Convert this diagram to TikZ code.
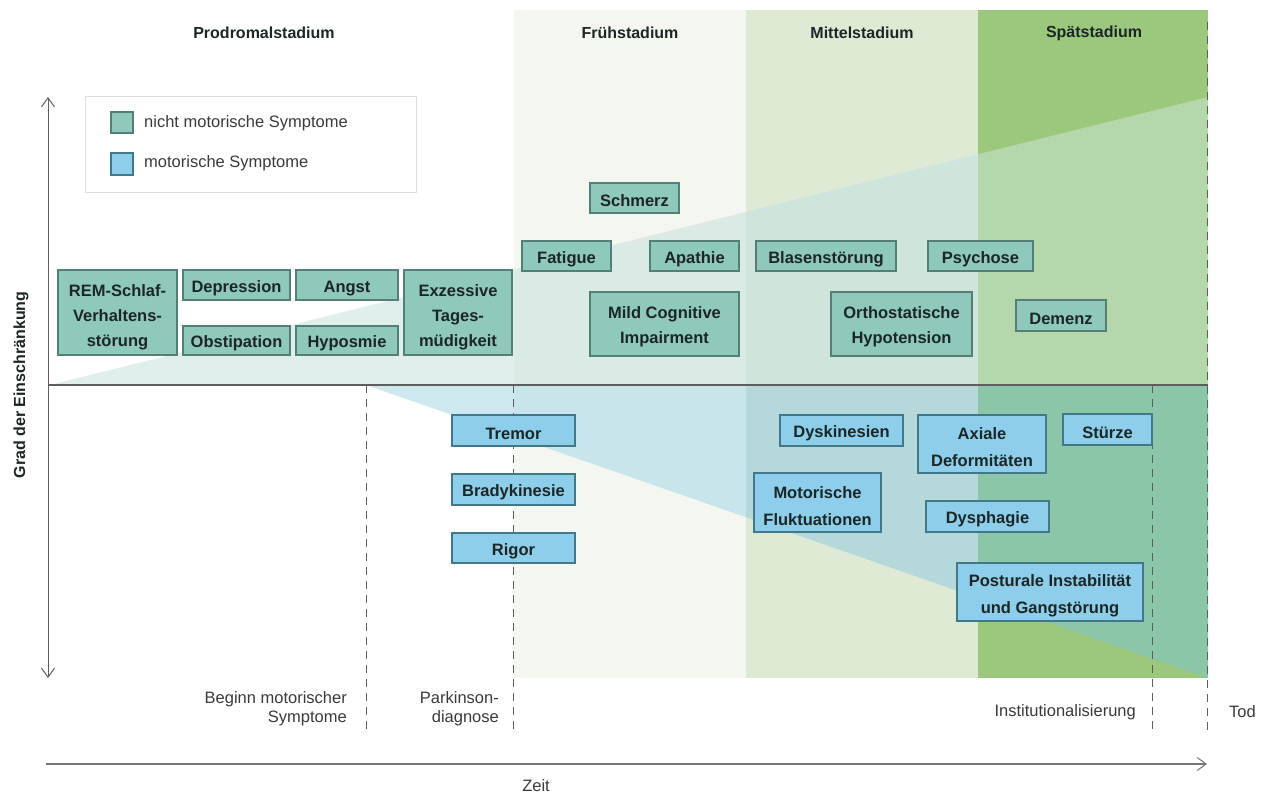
\documentclass[tikz,border=0pt]{standalone}
\usepackage{fontspec}
\setmainfont{Liberation Sans}
\usetikzlibrary{arrows.meta}

% stage backgrounds
\definecolor{fruehBg}{HTML}{F4F7F0}
\definecolor{mittelBg}{HTML}{DFEAD5}
\definecolor{spaetBg}{HTML}{9CC87E}
% non-motor wedge, per stage
\definecolor{nmWhite}{HTML}{E1EFEC}
\definecolor{nmFrueh}{HTML}{DAEBE5}
\definecolor{nmMittel}{HTML}{CFE4DA}
\definecolor{nmSpaet}{HTML}{B4D8AB}
% motor wedge, per stage
\definecolor{mWhite}{HTML}{CEE8F0}
\definecolor{mFrueh}{HTML}{C9E5EC}
\definecolor{mMittel}{HTML}{B5D9DB}
\definecolor{mSpaet}{HTML}{8BC6A8}
% symptom boxes
\definecolor{nmFill}{HTML}{8FC9BC}
\definecolor{nmLine}{HTML}{537F77}
\definecolor{mFill}{HTML}{8DCEEA}
\definecolor{mLine}{HTML}{41788A}
\definecolor{inkDark}{HTML}{1C2626}
\definecolor{inkGray}{HTML}{3A3A3A}
\definecolor{axisGray}{HTML}{5E5E5E}

\newcommand\boxfont{\bfseries\fontsize{16.5}{25}\selectfont}
\newcommand\boxfontwide{\bfseries\fontsize{16.5}{27}\selectfont}
\newcommand\lblfont{\fontsize{16.5}{19}\selectfont}

% one stage column: background plus both symptom wedges clipped to it
\newcommand\stagearea[5]{%
  \begin{scope}
    \clip (#1,10) rectangle (#2,678);
    \fill[#3] (#1,10) rectangle (#2,678);
    \fill[#4] (50,385) -- (1208,97) -- (1208,385) -- cycle;
    \fill[#5] (366,385) -- (1208,385) -- (1208,678) -- cycle;
  \end{scope}}

\tikzset{
  % an invisible strut next to the text block, taller than the block,
  % seats the lines a little below the box centre
  lift/.style={execute at begin node={\rule{0pt}{#1pt}}},
  symbox/.style={draw=#1, line width=1.4pt, inner sep=0pt, align=center,
    text=inkDark, font=\boxfont, lift=18},
  nmbox/.style={symbox=nmLine, fill=nmFill},
  mbox/.style={symbox=mLine, fill=mFill},
  threelines/.style={lift=72},
  twolines/.style={lift=43},
  twowide/.style={font=\boxfontwide, lift=46},
  stagetitle/.style={font=\bfseries\fontsize{16}{19}\selectfont, text=inkDark},
  eventlbl/.style={font=\lblfont, text=inkGray, inner sep=0pt},
  eventline/.style={draw=axisGray, line width=1pt, dash pattern=on 8pt off 6pt},
  axisline/.style={draw=axisGray, line width=1.2pt},
  axisbarb/.tip={Straight Barb[length=9pt, width=13pt, line width=1pt]}
}

\begin{document}
\begin{tikzpicture}[x=1pt, y=-1pt]
\path[use as bounding box, fill=white] (0,0) rectangle (1264,794);

% stage columns
\stagearea{0}{514}{white}{nmWhite}{mWhite}
\stagearea{514}{746}{fruehBg}{nmFrueh}{mFrueh}
\stagearea{746}{978}{mittelBg}{nmMittel}{mMittel}
\stagearea{978}{1208}{spaetBg}{nmSpaet}{mSpaet}

% stage titles
\node[stagetitle] (tProd)   at (264,33)  {Prodromalstadium};
\node[stagetitle] (tFrueh)  at (630,33)  {Frühstadium};
\node[stagetitle] (tMittel) at (862,33)  {Mittelstadium};
\node[stagetitle] (tSpaet)  at (1094,33) {Spätstadium};

% event markers
\coordinate (e1t) at (366,385); \coordinate (e1b) at (366,735);
\coordinate (e2t) at (513,385); \coordinate (e2b) at (513,735);
\coordinate (e3t) at (1152,385); \coordinate (e3b) at (1152,735);
\coordinate (e4t) at (1207,22); \coordinate (e4b) at (1207,735);
\draw[eventline] (e1t) -- (e1b);
\draw[eventline] (e2t) -- (e2b);
\draw[eventline] (e3t) -- (e3b);
\draw[eventline] (e4t) -- (e4b);

% axes
\coordinate (yTop) at (48,97);  \coordinate (yBot) at (48,678);
\coordinate (xL) at (48,385);   \coordinate (xR) at (1208,385);
\coordinate (tL) at (46,764);   \coordinate (tR) at (1207,764);
\draw[axisline] (xL) -- (xR);
\draw[draw=axisGray, line width=1pt, axisbarb-axisbarb] (yTop) -- (yBot);
\draw[draw=axisGray!85, line width=2pt, -axisbarb] (tL) -- (tR);

\node[font=\bfseries\fontsize{16}{19}\selectfont, text=inkDark, rotate=90] (yLabel) at (21,385) {Grad der Einschränkung};
\node[font=\lblfont, text=inkGray] (zeit) at (536,786) {Zeit};

% event labels
\node[eventlbl, anchor=east, align=right] (lBeginn) at (347,709) {Beginn motorischer\\Symptome};
\node[eventlbl, anchor=east, align=right] (lDiag) at (499,709) {Parkinson-\\diagnose};
\node[eventlbl, anchor=east] (lInst) at (1136,712) {Institutionalisierung};
\node[eventlbl, anchor=west] (lTod) at (1229,712) {Tod};

% legend
\node[draw=black!13, line width=1pt, minimum width=331pt, minimum height=96pt, inner sep=0pt] (legend) at (250.5,145) {};
\node[draw=nmLine, fill=nmFill, line width=1.4pt, minimum width=22pt, minimum height=21pt, inner sep=0pt] (legNM) at (122,122.5) {};
\node[draw=mLine, fill=mFill, line width=1.4pt, minimum width=22pt, minimum height=22pt, inner sep=0pt] (legM) at (122,164) {};
\node[eventlbl, anchor=west] (legNMt) at (144,123) {nicht motorische Symptome};
\node[eventlbl, anchor=west] (legMt) at (144,163) {motorische Symptome};

% non-motor symptoms
\node[nmbox, threelines, minimum width=119pt, minimum height=85pt] (rem) at (117.5,312.5) {REM-Schlaf-\\Verhaltens-\\störung};
\node[nmbox, minimum width=107pt, minimum height=30pt] (dep) at (236.5,285) {Depression};
\node[nmbox, minimum width=102pt, minimum height=30pt] (angst) at (347,285) {Angst};
\node[nmbox, minimum width=107pt, minimum height=29pt] (obst) at (236.5,340.5) {Obstipation};
\node[nmbox, minimum width=102pt, minimum height=29pt] (hypo) at (347,340.5) {Hyposmie};
\node[nmbox, threelines, minimum width=108pt, minimum height=85pt] (exz) at (458,312.5) {Exzessive\\Tages-\\müdigkeit};
\node[nmbox, minimum width=89pt, minimum height=30pt] (schmerz) at (634.5,198) {Schmerz};
\node[nmbox, minimum width=89pt, minimum height=30pt] (fatigue) at (566.5,256) {Fatigue};
\node[nmbox, minimum width=89pt, minimum height=30pt] (apathie) at (694.5,256) {Apathie};
\node[nmbox, minimum width=140pt, minimum height=30pt] (blasen) at (826,256) {Blasenstörung};
\node[nmbox, minimum width=105pt, minimum height=30pt] (psychose) at (980.5,256) {Psychose};
\node[nmbox, twolines, minimum width=149pt, minimum height=64pt] (mci) at (664.5,324) {Mild Cognitive\\Impairment};
\node[nmbox, twolines, minimum width=141pt, minimum height=64pt] (ortho) at (901.5,324) {Orthostatische\\Hypotension};
\node[nmbox, minimum width=90pt, minimum height=31pt] (demenz) at (1061,315.5) {Demenz};

% motor symptoms
\node[mbox, minimum width=123pt, minimum height=31pt] (tremor) at (513.5,430.5) {Tremor};
\node[mbox, minimum width=123pt, minimum height=31pt] (brady) at (513.5,489.5) {Bradykinesie};
\node[mbox, minimum width=123pt, minimum height=30pt] (rigor) at (513.5,548) {Rigor};
\node[mbox, minimum width=123pt, minimum height=31pt] (dysk) at (841.5,430.5) {Dyskinesien};
\node[mbox, twowide, minimum width=128pt, minimum height=58pt] (axiale) at (982,444) {Axiale\\Deformitäten};
\node[mbox, minimum width=89pt, minimum height=31pt] (stuerze) at (1107.5,429.5) {Stürze};
\node[mbox, twowide, minimum width=127pt, minimum height=59pt] (motfl) at (817.5,502.5) {Motorische\\Fluktuationen};
\node[mbox, minimum width=123pt, minimum height=31pt] (dysph) at (987.5,516.5) {Dysphagie};
\node[mbox, twowide, minimum width=186pt, minimum height=58pt] (post) at (1050,592) {Posturale Instabilität\\und Gangstörung};
\end{tikzpicture}
\end{document}
